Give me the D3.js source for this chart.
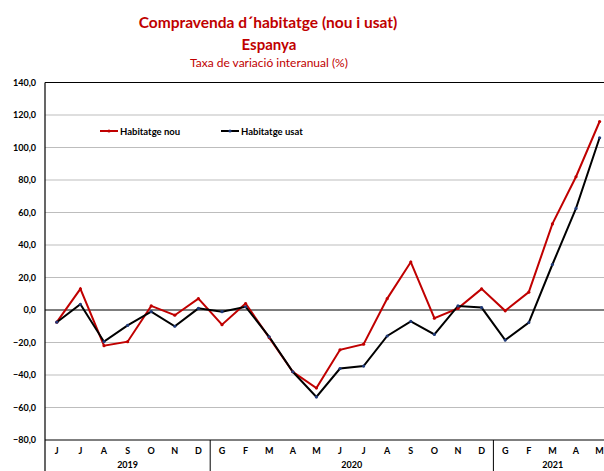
<!DOCTYPE html>
<html>
<head>
<meta charset="utf-8">
<script src="https://cdn.jsdelivr.net/npm/d3@7"></script>
<style>
  body { margin: 0; background: #fff; }
  svg { display: block; font-family: Lato, "Open Sans", sans-serif; }
</style>
</head>
<body>
<svg width="604" height="471"></svg>
<script>
// data
const months = ['J','J','A','S','O','N','D','G','F','M','A','M','J','J','A','S','O','N','D','G','F','M','A','M'];
const years = [
    {label: '2019', start: 0, end: 7},
    {label: '2020', start: 7, end: 19},
    {label: '2021', start: 19, end: 24}
];
const nou = [-7.5, 13, -22, -19.5, 2.5, -3.2, 7, -9, 4, -17, -38, -48, -24.5, -21, 7, 29.5, -5, 1, 13, -0.5, 11, 53, 82, 116];
const usat = [-7.5, 3.5, -19.5, -9.5, -1, -10, 1, -1, 2, -16.5, -38, -53.5, -36, -34.5, -16, -7, -15, 2.5, 1.5, -18.5, -7.7, 28, 62.5, 106];
const yTicks = [-80, -60, -40, -20, 0, 20, 40, 60, 80, 100, 120, 140];

const svg = d3.select('svg');
const red = '#c00000';

const x = d3.scaleBand()
    .domain(d3.range(months.length))
    .range([45, 45 + 24 * 23.6]);
const y = d3.scaleLinear()
    .domain([-80, 140])
    .range([440, 82.5]);

// titles
svg.append('text')
    .attr('x', 268).attr('y', 28)
    .attr('text-anchor', 'middle')
    .style('font-size', '15.5px').style('font-weight', 'bold').style('fill', red)
    .text('Compravenda d´habitatge (nou i usat)');
svg.append('text')
    .attr('x', 269).attr('y', 50)
    .attr('text-anchor', 'middle')
    .style('font-size', '15px').style('font-weight', 'bold').style('fill', red)
    .text('Espanya');
svg.append('text')
    .attr('x', 269).attr('y', 67)
    .attr('text-anchor', 'middle')
    .style('font-size', '12px').style('fill', red)
    .text('Taxa de variació interanual (%)');

// gridlines
svg.append('g')
    .selectAll('line')
    .data(yTicks)
    .enter()
    .append('line')
    .attr('x1', 45).attr('x2', 604)
    .attr('y1', d => y(d)).attr('y2', d => y(d))
    .style('stroke', d => (d === 0 || d === 140 || d === -80) ? '#000' : '#bdbdbd')
    .style('stroke-width', d => (d === 0 || d === 140 || d === -80) ? 1.2 : 1);

// y axis
const yAxis = d3.axisLeft(y)
    .tickValues(yTicks)
    .tickSize(0)
    .tickPadding(9)
    .tickFormat(d => d3.format('.1f')(d).replace('.', ','));
const ya = svg.append('g')
    .attr('transform', 'translate(45,0)')
    .call(yAxis);
ya.select('.domain').remove();
ya.selectAll('text')
    .style('font-family', 'Lato, sans-serif')
    .style('font-size', '9px').style('font-weight', 'bold').style('fill', '#000');

svg.append('line')
    .attr('x1', 45).attr('x2', 45)
    .attr('y1', 82.5).attr('y2', 471)
    .style('stroke', '#000').style('stroke-width', 1.2);

// x axis: months
svg.append('g')
    .selectAll('text')
    .data(months)
    .enter()
    .append('text')
    .attr('x', (d, i) => x(i) + x.bandwidth() / 2)
    .attr('y', 454)
    .attr('text-anchor', 'middle')
    .style('font-size', '9px').style('font-weight', 'bold')
    .text(d => d);

// year separators and labels
svg.append('g')
    .selectAll('line')
    .data(years.slice(1))
    .enter()
    .append('line')
    .attr('x1', d => x(d.start)).attr('x2', d => x(d.start))
    .attr('y1', 440).attr('y2', 471)
    .style('stroke', '#000').style('stroke-width', 1);

svg.append('g')
    .selectAll('text')
    .data(years)
    .enter()
    .append('text')
    .attr('x', d => (x(d.start) + Math.min(x(d.end - 1) + x.bandwidth(), 604)) / 2 + (d.label === '2021' ? 4 : 0))
    .attr('y', 468)
    .attr('text-anchor', 'middle')
    .style('font-size', '9px').style('font-weight', 'bold')
    .text(d => d.label);

// lines
const line = d3.line()
    .x((d, i) => x(i) + x.bandwidth() / 2)
    .y(d => y(d));

svg.append('path')
    .datum(nou)
    .attr('d', line)
    .style('fill', 'none').style('stroke', red).style('stroke-width', 2);
svg.append('path')
    .datum(usat)
    .attr('d', line)
    .style('fill', 'none').style('stroke', '#000').style('stroke-width', 2);

svg.append('g')
    .selectAll('circle')
    .data(nou)
    .enter()
    .append('circle')
    .attr('cx', (d, i) => x(i) + x.bandwidth() / 2)
    .attr('cy', d => y(d))
    .attr('r', 1.6)
    .style('fill', red);
svg.append('g')
    .selectAll('circle')
    .data(usat)
    .enter()
    .append('circle')
    .attr('cx', (d, i) => x(i) + x.bandwidth() / 2)
    .attr('cy', d => y(d))
    .attr('r', 1.6)
    .style('fill', '#1f3a7a');

// legend
const legend = [
    {name: 'Habitatge nou', color: red, dot: red, x: 100},
    {name: 'Habitatge usat', color: '#000', dot: '#1f3a7a', x: 221}
];
const lg = svg.append('g')
    .selectAll('g')
    .data(legend)
    .enter()
    .append('g')
    .attr('transform', d => 'translate(' + d.x + ',131)');
lg.append('line')
    .attr('x1', 0).attr('x2', 18)
    .style('stroke', d => d.color).style('stroke-width', 2);
lg.append('circle')
    .attr('cx', 9).attr('r', 1.6)
    .style('fill', d => d.dot);
lg.append('text')
    .attr('x', 20).attr('y', 3.5)
    .style('font-size', '9.5px').style('font-weight', 'bold')
    .text(d => d.name);
</script>
</body>
</html>
